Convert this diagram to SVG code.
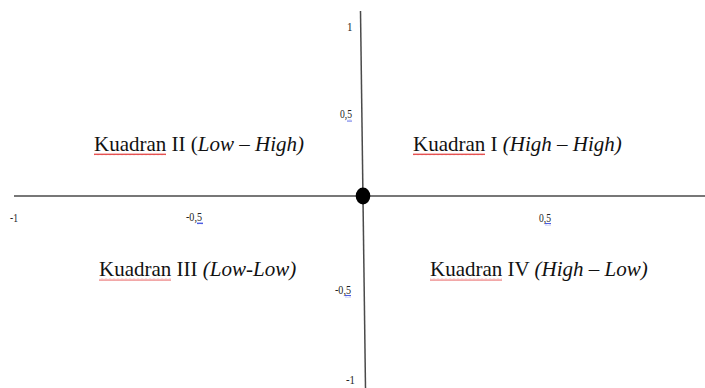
<svg xmlns="http://www.w3.org/2000/svg" width="705" height="388" viewBox="0 0 705 388">
  <defs>
    <pattern id="wavyRed" x="0" y="0" width="4" height="3" patternUnits="userSpaceOnUse">
      <path d="M0,2.2 L1,0.6 L2,2.2 L3,0.6 L4,2.2" fill="none" stroke="#e03030" stroke-width="0.9"/>
    </pattern>
    <pattern id="wavyBlue" x="0" y="0" width="4" height="3" patternUnits="userSpaceOnUse">
      <path d="M0,2.2 L1,0.6 L2,2.2 L3,0.6 L4,2.2" fill="none" stroke="#2a3ee0" stroke-width="0.9"/>
    </pattern>
  </defs>
  <style>
    .axis { stroke: #4a4a4a; stroke-width: 1.5; fill: none; }
    .q { font-family: "Liberation Serif", "Times New Roman", serif; font-size: 21px; fill: #111; }
    .it { font-style: italic; }
    .tick { font-family: "Liberation Serif", "Times New Roman", serif; font-size: 13px; fill: #222; }
  </style>
  <rect width="705" height="388" fill="#ffffff"/>
  <g id="connectors">
    <line class="axis" x1="14" y1="196" x2="705" y2="196"/>
    <line class="axis" x1="360.5" y1="11" x2="365.5" y2="388"/>
  </g>
  <g id="origin">
    <ellipse cx="363" cy="196" rx="7.3" ry="8.5" fill="#000"/>
  </g>
  <g id="ticks">
    <text class="tick" x="347" y="31" textLength="5.5" lengthAdjust="spacingAndGlyphs">1</text>
    <text class="tick" x="340" y="118" textLength="12" lengthAdjust="spacingAndGlyphs">0,5</text>
    <rect x="347" y="119" width="5" height="2.5" fill="url(#wavyBlue)"/>
    <text class="tick" x="10" y="222" textLength="8" lengthAdjust="spacingAndGlyphs">-1</text>
    <text class="tick" x="186" y="221" textLength="16" lengthAdjust="spacingAndGlyphs">-0,5</text>
    <rect x="197" y="222" width="6" height="2.5" fill="url(#wavyBlue)"/>
    <text class="tick" x="539" y="222" textLength="12" lengthAdjust="spacingAndGlyphs">0,5</text>
    <rect x="545" y="223" width="6" height="2.5" fill="url(#wavyBlue)"/>
    <text class="tick" x="335" y="294" textLength="16" lengthAdjust="spacingAndGlyphs">-0,5</text>
    <rect x="345" y="295" width="6" height="2.5" fill="url(#wavyBlue)"/>
    <text class="tick" x="346" y="384" textLength="9" lengthAdjust="spacingAndGlyphs">-1</text>
  </g>
  <g id="kuadran-1">
    <text class="q" x="413" y="151">Kuadran I <tspan class="it">(High – High)</tspan></text>
    <rect x="413" y="153" width="72" height="2.5" fill="url(#wavyRed)"/>
  </g>
  <g id="kuadran-2">
    <text class="q" x="94" y="151">Kuadran II (<tspan class="it">Low – High)</tspan></text>
    <rect x="94" y="153" width="72" height="2.5" fill="url(#wavyRed)"/>
  </g>
  <g id="kuadran-3">
    <text class="q" x="99" y="276">Kuadran III <tspan class="it">(Low-Low)</tspan></text>
    <rect x="99" y="278" width="72" height="2.5" fill="url(#wavyRed)"/>
  </g>
  <g id="kuadran-4">
    <text class="q" x="430" y="276">Kuadran IV <tspan class="it">(High – Low)</tspan></text>
    <rect x="430" y="278" width="72" height="2.5" fill="url(#wavyRed)"/>
  </g>
</svg>
